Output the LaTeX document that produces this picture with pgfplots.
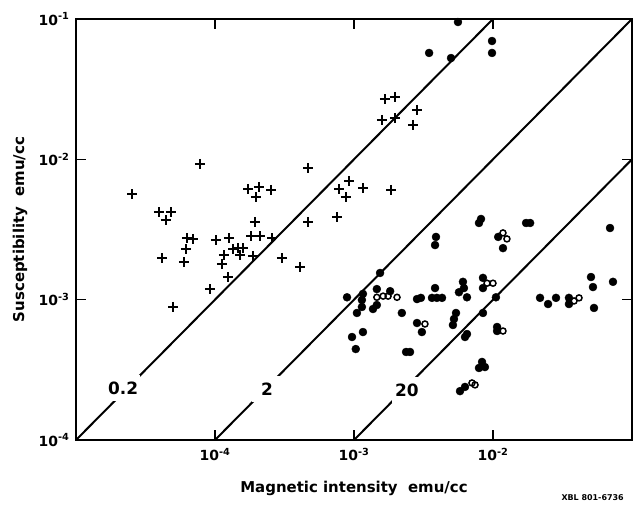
\documentclass[border=0pt]{standalone}
\usepackage{fontspec}
\setmainfont{DejaVu Sans}
\usepackage{pgfplots}
\pgfplotsset{compat=1.18}
\begin{document}
\begin{tikzpicture}
\useasboundingbox (-76bp,-65bp) rectangle (562bp,440bp);
\begin{axis}[
  at={(0,0)}, anchor=south west,
  scale only axis, width=556bp, height=421bp,
  xmode=log, ymode=log,
  xmin=1e-5, xmax=1e-1, ymin=1e-4, ymax=1e-1,
  xtick={1e-4,1e-3,1e-2},
  xticklabels={10\textsuperscript{-4},10\textsuperscript{-3},10\textsuperscript{-2}},
  ytick={1e-4,1e-3,1e-2,1e-1},
  yticklabels={10\textsuperscript{-4},10\textsuperscript{-3},10\textsuperscript{-2},10\textsuperscript{-1}},
  xminorticks=false, yminorticks=false,
  tick align=inside, major tick length=10bp,
  tick style={black, line width=1.5bp},
  axis line style={line width=2bp},
  ticklabel style={font=\bfseries\fontsize{14}{14}\selectfont},
  xticklabel style={yshift=-5bp},
  yticklabel style={xshift=-3bp},
  label style={font=\bfseries\fontsize{15}{15}\selectfont},
  xlabel={Magnetic intensity\ \ emu/cc},
  ylabel={Susceptibility\ \ emu/cc},
  xlabel style={at={(axis description cs:0.5,-0.114)}, anchor=center},
  ylabel style={at={(axis description cs:-0.1007,0.5)}, anchor=center},
  clip=false,
]
% Q lines
\addplot[line width=2bp, black] coordinates {(1e-5,1e-4) (1e-2,1e-1)};
\addplot[line width=2bp, black] coordinates {(1e-4,1e-4) (1e-1,1e-1)};
\addplot[line width=2bp, black] coordinates {(1e-3,1e-4) (1e-1,1e-2)};
\node[fill=white, inner sep=2bp, minimum width=30bp, minimum height=26bp, font=\bfseries\fontsize{17}{17}\selectfont] at (axis cs:2.18e-5,2.35e-4) {0.2};
\node[fill=white, inner sep=2bp, minimum width=30bp, minimum height=26bp, font=\bfseries\fontsize{17}{17}\selectfont] at (axis cs:2.37e-4,2.31e-4) {2};
\node[fill=white, inner sep=2bp, minimum width=30bp, minimum height=26bp, font=\bfseries\fontsize{17}{17}\selectfont] at (axis cs:2.40e-3,2.27e-4) {20};
% crosses
\addplot[only marks, mark=+, mark size=5bp, line width=2.2bp, black] coordinates {
(2.53e-5,5.66e-3) (3.95e-5,4.21e-3) (4.82e-5,4.21e-3) (4.44e-5,3.70e-3) (7.80e-5,9.27e-3)
(6.29e-5,2.75e-3) (6.95e-5,2.71e-3) (1.02e-4,2.66e-3) (6.18e-5,2.30e-3) (4.16e-5,1.98e-3)
(5.98e-5,1.85e-3) (9.20e-5,1.19e-3) (4.99e-5,8.87e-4)
(1.26e-4,2.75e-3) (1.82e-4,2.84e-3) (2.11e-4,2.84e-3) (2.57e-4,2.75e-3) (1.35e-4,2.30e-3)
(1.46e-4,2.33e-3) (1.59e-4,2.33e-3) (1.16e-4,2.08e-3) (1.51e-4,2.08e-3) (1.88e-4,2.05e-3)
(1.12e-4,1.80e-3) (3.03e-4,1.98e-3) (4.09e-4,1.71e-3) (1.24e-4,1.45e-3) (1.94e-4,3.58e-3)
(4.67e-4,3.58e-3)
(4.67e-4,8.67e-3) (1.73e-4,6.15e-3) (2.07e-4,6.35e-3) (1.97e-4,5.39e-3) (2.53e-4,6.05e-3)
(7.55e-4,3.88e-3) (9.21e-4,7.01e-3) (7.80e-4,6.15e-3) (8.75e-4,5.39e-3) (1.16e-3,6.25e-3)
(1.85e-3,6.05e-3)
(1.67e-3,2.69e-2) (1.97e-3,2.78e-2) (1.59e-3,1.91e-2) (1.97e-3,1.97e-2) (2.84e-3,2.25e-2)
(2.66e-3,1.76e-2)
};
% filled circles
\addplot[only marks, mark=*, mark size=4bp, black] coordinates {
(5.60e-3,9.52e-2) (3.47e-3,5.73e-2) (4.99e-3,5.27e-2) (9.84e-3,6.97e-2) (9.84e-3,5.73e-2)
(3.89e-3,2.80e-3) (3.83e-3,2.45e-3) (1.54e-3,1.55e-3) (8.91e-4,1.04e-3) (1.16e-3,1.10e-3)
(1.14e-3,9.95e-4) (1.14e-3,8.87e-4) (1.05e-3,8.04e-4) (1.46e-3,1.19e-3) (1.46e-3,9.16e-4)
(1.37e-3,8.58e-4) (1.82e-3,1.15e-3) (3.83e-3,1.21e-3) (2.84e-3,1.01e-3) (3.03e-3,1.03e-3)
(3.64e-3,1.03e-3) (3.95e-3,1.03e-3) (4.30e-3,1.03e-3) (2.21e-3,8.04e-4) (2.84e-3,6.82e-4)
(3.08e-3,5.88e-4)
(6.08e-3,1.34e-3) (5.69e-3,1.13e-3) (6.18e-3,1.21e-3) (6.50e-3,1.04e-3) (5.42e-3,8.04e-4)
(5.24e-3,7.28e-4) (5.15e-3,6.60e-4) (9.68e-4,5.42e-4) (1.16e-3,5.88e-4) (1.03e-3,4.45e-4)
(2.37e-3,4.24e-4) (2.53e-3,4.24e-4) (6.29e-3,5.42e-4) (6.50e-3,5.69e-4)
(8.20e-3,3.76e-3) (7.93e-3,3.52e-3) (1.73e-2,3.52e-3) (1.85e-2,3.52e-3) (1.09e-2,2.80e-3)
(1.18e-2,2.33e-3) (6.95e-2,3.24e-3) (8.47e-3,1.43e-3) (8.47e-3,1.21e-3) (1.05e-2,1.04e-3)
(2.18e-2,1.03e-3) (2.49e-2,9.31e-4) (2.84e-2,1.03e-3) (3.52e-2,1.03e-3) (3.52e-2,9.31e-4)
(5.07e-2,1.45e-3) (5.24e-2,1.23e-3) (7.30e-2,1.34e-3) (5.33e-2,8.73e-4) (8.47e-3,8.04e-4)
(1.07e-2,6.39e-4) (1.07e-2,5.98e-4) (8.34e-3,3.60e-4) (8.75e-3,3.31e-4) (7.93e-3,3.26e-4)
(5.79e-3,2.23e-4) (6.29e-3,2.39e-4)
};
% open circles
\addplot[only marks, mark=o, mark size=3bp, line width=1.5bp, black] coordinates {
(1.46e-3,1.04e-3) (1.62e-3,1.06e-3) (1.76e-3,1.06e-3) (2.04e-3,1.04e-3) (3.24e-3,6.71e-4)
(1.18e-2,2.99e-3) (1.26e-2,2.71e-3) (9.06e-3,1.31e-3) (1.00e-2,1.31e-3) (3.83e-2,9.79e-4)
(4.16e-2,1.03e-3) (1.18e-2,5.98e-4) (7.06e-3,2.55e-4) (7.43e-3,2.47e-4)
};
\end{axis}
\node[anchor=west, font=\bfseries\fontsize{8}{8}\selectfont] at (482bp,-58bp) {XBL 801-6736};
\end{tikzpicture}
\end{document}
